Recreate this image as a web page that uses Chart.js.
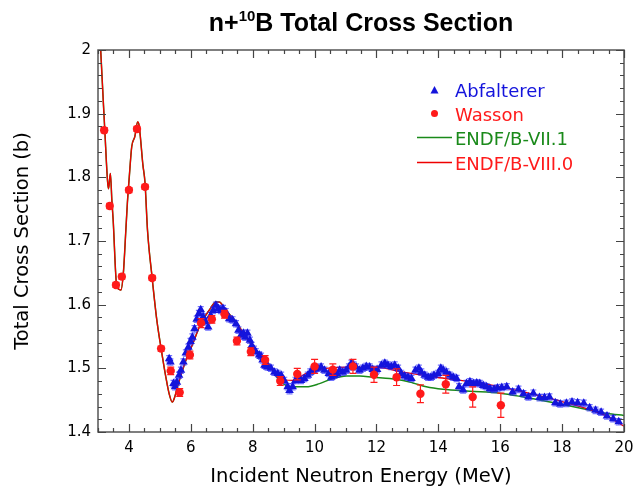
<!DOCTYPE html>
<html><head><meta charset="utf-8">
<script src="https://cdn.jsdelivr.net/npm/chart.js@4.4.1/dist/chart.umd.min.js"></script>
<style>html,body{margin:0;padding:0;background:#fff;}</style>
</head><body>
<canvas id="c" width="644" height="492"></canvas>
<script>
// ---- data ----
const xTicks = [4, 6, 8, 10, 12, 14, 16, 18, 20];
const yTicks = [1.4, 1.5, 1.6, 1.7, 1.8, 1.9, 2.0];

const abfE = [5.30,5.34,5.44,5.49,5.55,5.62,5.68,5.76,5.84,5.92,5.99,6.05,6.12,6.19,6.26,6.32,6.40,6.48,6.56,6.64,6.72,6.81,6.89,6.97,7.04,7.13,7.24,7.35,7.46,7.54,7.62,7.70,7.76,7.83,7.91,7.97,8.04,8.10,8.21,8.27,8.32,8.38,8.43,8.48,8.59,8.70,8.81,8.92,9.02,9.13,9.19,9.29,9.38,9.46,9.56,9.67,9.78,9.86,9.94,10.02,10.10,10.21,10.32,10.46,10.54,10.64,10.73,10.81,10.91,11.02,11.11,11.19,11.26,11.34,11.45,11.56,11.67,11.78,11.88,11.94,12.02,12.16,12.27,12.37,12.48,12.59,12.70,12.80,12.91,13.02,13.13,13.26,13.37,13.45,13.56,13.67,13.76,13.86,13.99,14.08,14.16,14.26,14.37,14.48,14.59,14.67,14.80,14.91,15.02,15.13,15.24,15.34,15.45,15.56,15.67,15.80,15.91,16.05,16.21,16.40,16.59,16.75,16.91,17.07,17.27,17.43,17.59,17.78,17.94,18.14,18.32,18.50,18.70,18.89,19.08,19.26,19.45,19.65,19.83];
const abfXS = [1.515,1.510,1.476,1.471,1.478,1.489,1.497,1.510,1.524,1.533,1.542,1.549,1.562,1.577,1.586,1.592,1.581,1.573,1.565,1.583,1.591,1.599,1.594,1.591,1.594,1.589,1.578,1.576,1.570,1.560,1.552,1.555,1.549,1.555,1.544,1.536,1.530,1.526,1.521,1.519,1.513,1.505,1.504,1.502,1.500,1.494,1.492,1.489,1.481,1.471,1.465,1.471,1.481,1.486,1.481,1.484,1.489,1.494,1.497,1.499,1.500,1.502,1.497,1.492,1.486,1.489,1.491,1.497,1.494,1.497,1.502,1.508,1.505,1.502,1.497,1.500,1.503,1.502,1.498,1.494,1.498,1.505,1.508,1.505,1.503,1.505,1.500,1.492,1.488,1.486,1.484,1.497,1.500,1.494,1.489,1.486,1.486,1.489,1.492,1.500,1.497,1.494,1.489,1.486,1.484,1.471,1.466,1.476,1.479,1.476,1.477,1.476,1.473,1.471,1.468,1.467,1.469,1.470,1.471,1.463,1.467,1.460,1.455,1.461,1.454,1.454,1.455,1.446,1.444,1.445,1.447,1.446,1.445,1.438,1.434,1.431,1.425,1.421,1.416];
const abfErr = 0.005;

const wasE = [3.20,3.38,3.58,3.77,4.00,4.26,4.52,4.75,5.04,5.35,5.64,5.97,6.33,6.68,7.09,7.49,7.94,8.40,8.89,9.44,10.00,10.59,11.24,11.92,12.65,13.42,14.24,15.11,16.02];
const wasXS = [1.874,1.755,1.631,1.644,1.780,1.876,1.785,1.642,1.531,1.496,1.462,1.521,1.571,1.577,1.585,1.543,1.526,1.513,1.480,1.491,1.503,1.498,1.503,1.490,1.486,1.460,1.475,1.455,1.442];
const wasErr = [0.004,0.004,0.004,0.004,0.004,0.004,0.004,0.004,0.004,0.006,0.006,0.006,0.007,0.006,0.006,0.006,0.006,0.007,0.007,0.009,0.011,0.009,0.011,0.012,0.013,0.014,0.014,0.016,0.019];

const e8E = [3.00,3.09,3.22,3.31,3.34,3.40,3.45,3.49,3.60,3.68,3.74,3.82,3.90,3.95,4.01,4.09,4.19,4.28,4.33,4.45,4.52,4.60,4.75,4.90,5.04,5.19,5.30,5.40,5.48,5.54,5.71,5.92,6.05,6.32,6.59,6.81,6.92,7.13,7.46,7.78,8.11,8.43,8.86,9.29,9.73,10.37,11.24,12.10,12.86,13.94,15.02,15.99,16.75,17.83,18.91,19.40,20.00];
const e8XS = [2.100,1.997,1.874,1.793,1.782,1.806,1.762,1.733,1.631,1.624,1.623,1.650,1.717,1.760,1.800,1.848,1.864,1.887,1.881,1.820,1.791,1.717,1.642,1.576,1.531,1.487,1.460,1.447,1.455,1.466,1.494,1.523,1.537,1.570,1.591,1.604,1.604,1.591,1.573,1.549,1.528,1.513,1.484,1.481,1.492,1.500,1.502,1.501,1.494,1.486,1.479,1.471,1.463,1.450,1.435,1.426,1.409];

const e7E = [3.00,3.09,3.22,3.31,3.34,3.40,3.45,3.49,3.60,3.68,3.74,3.82,3.90,3.95,4.01,4.09,4.19,4.28,4.33,4.45,4.52,4.60,4.75,4.90,5.04,5.19,5.30,5.40,5.48,5.54,5.71,5.92,6.05,6.32,6.59,6.81,6.92,7.13,7.46,7.78,8.11,8.43,8.86,9.29,9.73,10.16,10.59,11.03,11.46,11.89,12.43,12.86,13.18,13.61,14.15,15.02,15.99,16.75,17.83,18.91,19.45,20.00];
const e7XS = [2.100,1.997,1.874,1.793,1.782,1.806,1.762,1.733,1.631,1.624,1.623,1.650,1.717,1.760,1.800,1.848,1.864,1.887,1.881,1.820,1.791,1.717,1.642,1.576,1.531,1.487,1.460,1.447,1.455,1.466,1.494,1.523,1.537,1.570,1.591,1.604,1.604,1.591,1.573,1.549,1.528,1.513,1.481,1.471,1.471,1.476,1.484,1.488,1.488,1.486,1.484,1.481,1.477,1.471,1.467,1.464,1.461,1.455,1.445,1.434,1.429,1.426];

const BLUE = '#1414dc', RED = '#ff1a1a', GREEN = '#1a8a1a', LRED = '#ee0000';
const pts = (xs, ys) => xs.map((x, i) => ({x, y: ys[i]}));

Chart.defaults.font.family = '"DejaVu Sans", sans-serif';
Chart.defaults.color = '#000';

const errBars = {
  id: 'errBars',
  beforeDatasetDraw(chart, args) {
    const ds = chart.data.datasets[args.index];
    if (!ds.errs) return;
    const {ctx} = chart, xs = chart.scales.x, ys = chart.scales.y;
    const ca = chart.chartArea;
    ctx.save();
    ctx.beginPath(); ctx.rect(ca.left, ca.top, ca.right - ca.left, ca.bottom - ca.top); ctx.clip();
    ctx.strokeStyle = ds.errColor; ctx.lineWidth = 1.2;
    ds.data.forEach((p, i) => {
      const e = Array.isArray(ds.errs) ? ds.errs[i] : ds.errs;
      const px = xs.getPixelForValue(p.x);
      const y1 = ys.getPixelForValue(p.y + e), y2 = ys.getPixelForValue(p.y - e);
      const c = ds.capW;
      ctx.beginPath();
      ctx.moveTo(px, y1); ctx.lineTo(px, y2);
      ctx.moveTo(px - c, y1); ctx.lineTo(px + c, y1);
      ctx.moveTo(px - c, y2); ctx.lineTo(px + c, y2);
      ctx.stroke();
    });
    ctx.restore();
  }
};

const frame = {
  id: 'frame',
  afterDraw(chart) {
    const {ctx, chartArea: ca} = chart, xs = chart.scales.x, ys = chart.scales.y;
    ctx.save();
    ctx.strokeStyle = '#555'; ctx.lineWidth = 1.5;
    ctx.strokeRect(ca.left, ca.top, ca.right - ca.left, ca.bottom - ca.top);
    ctx.lineWidth = 1.2; ctx.strokeStyle = '#444';
    ctx.beginPath();
    for (let v = 3; v <= 20.001; v += 0.5) {
      const px = Math.round(xs.getPixelForValue(v)) + 0.5;
      const major = Math.abs(v / 2 - Math.round(v / 2)) < 1e-6;
      const L = major ? 8 : 4;
      ctx.moveTo(px, ca.bottom); ctx.lineTo(px, ca.bottom - L);
      ctx.moveTo(px, ca.top); ctx.lineTo(px, ca.top + L);
    }
    for (let k = 0; k <= 30; k++) {
      const v = 1.4 + k * 0.02;
      const py = Math.round(ys.getPixelForValue(v)) + 0.5;
      const L = (k % 5 === 0) ? 8 : 4;
      ctx.moveTo(ca.left, py); ctx.lineTo(ca.left + L, py);
      ctx.moveTo(ca.right, py); ctx.lineTo(ca.right - L, py);
    }
    ctx.stroke();

    // title
    const cx = (ca.left + ca.right) / 2;
    const big = 'bold 25px "Liberation Sans", Arial, sans-serif';
    const small = 'bold 15px "Liberation Sans", Arial, sans-serif';
    ctx.fillStyle = '#000';
    ctx.font = big; const w1 = ctx.measureText('n+').width, w3 = ctx.measureText('B Total Cross Section').width;
    ctx.font = small; const w2 = ctx.measureText('10').width;
    let x0 = cx - (w1 + w2 + w3) / 2;
    ctx.textBaseline = 'alphabetic'; ctx.textAlign = 'left';
    ctx.font = big; ctx.fillText('n+', x0, 31);
    ctx.font = small; ctx.fillText('10', x0 + w1, 20.5);
    ctx.font = big; ctx.fillText('B Total Cross Section', x0 + w1 + w2, 31);

    // legend
    ctx.font = '18px "DejaVu Sans", sans-serif';
    const tx = 455;
    ctx.fillStyle = BLUE;
    ctx.beginPath(); ctx.moveTo(434.5, 86); ctx.lineTo(438.5, 93.5); ctx.lineTo(430.5, 93.5); ctx.closePath(); ctx.fill();
    ctx.fillText('Abfalterer', tx, 96.7);
    ctx.fillStyle = RED;
    ctx.beginPath(); ctx.arc(434.5, 113.5, 3.5, 0, Math.PI * 2); ctx.fill();
    ctx.fillText('Wasson', tx, 120.7);
    ctx.strokeStyle = GREEN; ctx.lineWidth = 1.5;
    ctx.beginPath(); ctx.moveTo(417, 137.5); ctx.lineTo(452, 137.5); ctx.stroke();
    ctx.fillStyle = GREEN; ctx.fillText('ENDF/B-VII.1', tx, 145);
    ctx.strokeStyle = LRED; ctx.lineWidth = 1.3;
    ctx.beginPath(); ctx.moveTo(417, 162.5); ctx.lineTo(452, 162.5); ctx.stroke();
    ctx.fillStyle = RED; ctx.fillText('ENDF/B-VIII.0', tx, 170);
    ctx.restore();
  }
};

new Chart(document.getElementById('c'), {
  type: 'scatter',
  data: {
    datasets: [
      {label: 'Wasson', data: pts(wasE, wasXS), errs: wasErr, errColor: RED, capW: 3.5,
       pointStyle: 'circle', pointRadius: 4.2, backgroundColor: RED, borderColor: RED, borderWidth: 0, order: 0},
      {label: 'Abfalterer', data: pts(abfE, abfXS), errs: abfErr, errColor: 'rgba(40,40,255,0.65)', capW: 3,
       pointStyle: 'triangle', pointRadius: 5, backgroundColor: BLUE, borderColor: BLUE, borderWidth: 0, order: 1},
      {label: 'ENDF/B-VIII.0', data: pts(e8E, e8XS), showLine: true, pointRadius: 0, borderColor: LRED,
       borderWidth: 1.3, cubicInterpolationMode: 'monotone', order: 2},
      {label: 'ENDF/B-VII.1', data: pts(e7E, e7XS), showLine: true, pointRadius: 0, borderColor: GREEN,
       borderWidth: 1.5, cubicInterpolationMode: 'monotone', order: 3}
    ]
  },
  options: {
    responsive: false, animation: false, devicePixelRatio: 1,
    layout: {padding: {top: 50, right: 20, left: 0, bottom: 0}},
    plugins: {legend: {display: false}, tooltip: {enabled: false}, title: {display: false}},
    scales: {
      x: {
        type: 'linear', min: 3, max: 20,
        afterBuildTicks: s => { s.ticks = xTicks.map(v => ({value: v})); },
        afterFit: s => { s.height = 60; },
        grid: {display: false, drawTicks: false}, border: {display: false},
        ticks: {font: {size: 15}, padding: 7, maxRotation: 0, autoSkip: false, callback: v => String(v)},
        title: {display: true, text: 'Incident Neutron Energy (MeV)', font: {size: 19.5}, padding: {top: 0, bottom: 3}}
      },
      y: {
        type: 'linear', min: 1.4, max: 2.0,
        afterBuildTicks: s => { s.ticks = yTicks.map(v => ({value: v})); },
        afterFit: s => { s.width = 98; },
        grid: {display: false, drawTicks: false}, border: {display: false},
        ticks: {font: {size: 15}, padding: 7, autoSkip: false, callback: v => String(Math.round(v * 10) / 10)},
        title: {display: true, text: 'Total Cross Section (b)', font: {size: 19.5}, padding: {top: 11, bottom: 0}}
      }
    }
  },
  plugins: [errBars, frame]
});
</script>
</body></html>
